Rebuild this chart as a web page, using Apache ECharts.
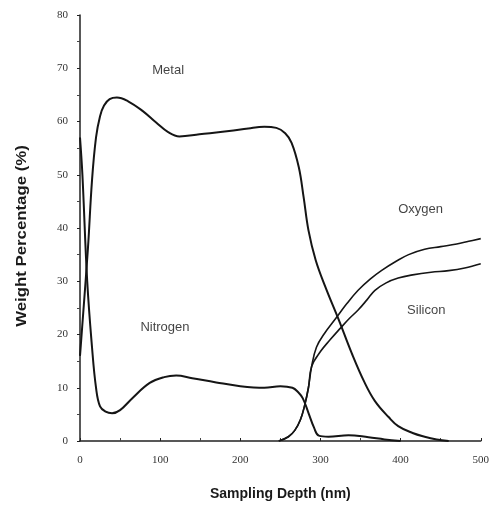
<!DOCTYPE html>
<html>
<head>
<meta charset="utf-8">
<script src="https://cdn.jsdelivr.net/npm/echarts@6/dist/echarts.min.js"></script>
<style>html,body{margin:0;padding:0;background:#fff}#c{width:492px;height:506px}</style>
</head>
<body>
<div id="c"></div>
<script>
var xTicks = [0, 100, 200, 300, 400, 500];
var yTicks = [0, 10, 20, 30, 40, 50, 60, 70, 80];

var metalX = [0, 4, 10, 15, 20, 25, 30, 37, 46, 60, 78, 95, 110, 124, 149, 186, 210, 230, 245, 256, 264, 273, 279, 285, 294, 306, 323, 339, 355, 368, 385, 397, 415, 430, 445, 460];
var metalY = [16, 24, 36.4, 49, 57, 61, 63, 64.2, 64.5, 63.8, 62, 59.8, 58, 57.2, 57.6, 58.2, 58.7, 59, 58.8, 57.8, 56, 51.4, 45.8, 39.6, 34, 29, 22.7, 16.5, 11, 7.5, 4.5, 2.8, 1.5, 0.8, 0.3, 0];

var nitrogenX = [0, 3, 9, 15, 20, 25, 32, 40, 50, 65, 87, 105, 120, 140, 170, 200, 230, 250, 265, 272, 278, 285, 292, 298, 310, 335, 360, 380, 400];
var nitrogenY = [57, 50, 30, 17.6, 10, 6.5, 5.5, 5.2, 5.8, 8, 10.9, 12, 12.3, 11.8, 11, 10.3, 10, 10.3, 10, 9.2, 8, 5.3, 2.5, 1.0, 0.8, 1.1, 0.7, 0.3, 0];

var oxygenX = [248, 260, 268, 275, 280, 285, 289, 295, 305, 319, 333, 347, 362, 376, 395, 410, 430, 450, 470, 485, 500];
var oxygenY = [0, 0.8, 2, 4, 6.5, 10, 14, 17.6, 20.2, 23, 25.8, 28.3, 30.4, 32, 33.8, 35, 36, 36.5, 37, 37.5, 38];

var siliconX = [248, 260, 268, 275, 280, 285, 289, 300, 312, 325, 336, 347, 358, 368, 382, 397, 415, 438, 460, 480, 500];
var siliconY = [0, 0.8, 2, 4, 6.5, 10, 14, 16.8, 19, 21.2, 23, 24.6, 26.5, 28.3, 29.7, 30.6, 31.2, 31.7, 32, 32.5, 33.3];

var seriesNames = ['Metal', 'Nitrogen', 'Oxygen', 'Silicon'];
var labelPos = [[110, 69.6], [106, 21.4], [425, 43.5], [432, 24.6]];

function pairs(xs, ys) { return xs.map(function (x, i) { return [x, ys[i]]; }); }

var chart = echarts.init(document.getElementById('c'), null, {renderer: 'canvas'});
var font = '"Liberation Sans", Arial, sans-serif';
var dataSets = [pairs(metalX, metalY), pairs(nitrogenX, nitrogenY), pairs(oxygenX, oxygenY), pairs(siliconX, siliconY)];
var widths = [2, 2, 1.6, 1.6];

var series = dataSets.map(function (d, i) {
  return {
    name: seriesNames[i], type: 'line', data: d, smooth: 0.4, symbol: 'none',
    lineStyle: {color: '#151515', width: widths[i]}, z: 3
  };
});
series.push({
  type: 'scatter', symbolSize: 0, silent: true,
  data: labelPos.map(function (p, i) { return {value: p, name: seriesNames[i]}; }),
  label: {show: true, position: 'inside', formatter: '{b}', color: '#111', fontSize: 13, fontFamily: font}
});

chart.setOption({
  animation: false,
  backgroundColor: '#fff',
  grid: {left: 80, right: 9, top: 15, bottom: 65},
  xAxis: {
    type: 'value', min: 0, max: 500, interval: 100,
    name: 'Sampling Depth (nm)', nameLocation: 'middle', nameGap: 46,
    nameTextStyle: {color: '#1a1a1a', fontSize: 14, fontWeight: 'bold', fontFamily: font},
    axisLine: {lineStyle: {color: '#222', width: 1.5}},
    axisTick: {show: true, inside: true, length: 3, lineStyle: {color: '#222'}},
    minorTick: {show: true, splitNumber: 2, length: 3, lineStyle: {color: '#444'}},
    splitLine: {show: false},
    axisLabel: {color: '#333', fontSize: 11, margin: 14, fontFamily: '"Liberation Serif", serif'}
  },
  yAxis: {
    type: 'value', min: 0, max: 80, interval: 10,
    axisLine: {lineStyle: {color: '#222', width: 1.5}},
    axisTick: {show: true, length: 3, lineStyle: {color: '#222'}},
    minorTick: {show: true, splitNumber: 2, length: 3, lineStyle: {color: '#444'}},
    splitLine: {show: false},
    axisLabel: {color: '#333', fontSize: 11, margin: 12, fontFamily: '"Liberation Serif", serif'}
  },
  graphic: [{
    type: 'text', x: 22, y: 236, rotation: Math.PI / 2, scaleX: 1.2,
    style: {text: 'Weight Percentage (%)', font: 'bold 14px ' + font, fill: '#1a1a1a', align: 'center', verticalAlign: 'middle'}
  }],
  series: series
});
</script>
</body>
</html>
